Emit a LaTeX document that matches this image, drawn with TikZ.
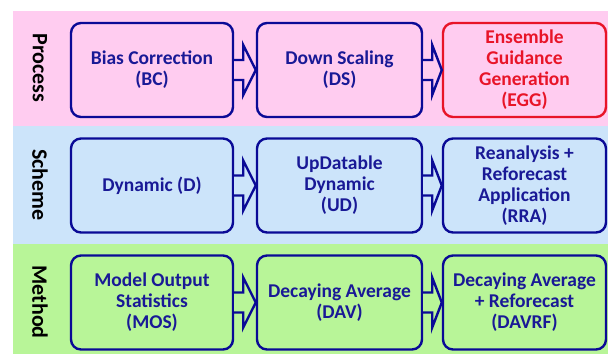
\documentclass[tikz,border=0pt]{standalone}
\usepackage{fontspec}
\setmainfont{Carlito}
\usetikzlibrary{calc}
\definecolor{bandpink}{RGB}{255,204,240}
\definecolor{bandblue}{RGB}{204,228,250}
\definecolor{bandgreen}{RGB}{184,245,152}
\definecolor{navy}{RGB}{10,10,150}
\definecolor{navytext}{RGB}{25,25,150}
\definecolor{redline}{RGB}{232,20,40}
\tikzset{
  box/.style={draw=navy, line width=2.4pt, rounded corners=10pt, minimum width=162pt, minimum height=94pt,
    align=center, text=navytext, font=\fontsize{19.5}{21}\selectfont\bfseries, inner sep=2pt},
  redbox/.style={box, draw=redline, text=redline},
  rowlabel/.style={rotate=-90, font=\fontsize{22}{24}\selectfont\bfseries, text=black},
  blockarrow/.style={draw=navy, line width=2.4pt, line join=miter, miter limit=10}
}
\newcommand{\blockarr}[3]{%
  \filldraw[blockarrow, fill=#3] ($(#1.east)+(0,-10)$) -- ($(#1.east)+(9,-10)$) -- ($(#1.east)+(9,-25)$)
    -- ($(#2.west)+(0,0)$) -- ($(#1.east)+(9,25)$) -- ($(#1.east)+(9,10)$) -- ($(#1.east)+(0,10)$);}
\begin{document}
\begin{tikzpicture}[x=1pt, y=-1pt]
\path[use as bounding box] (0,0) rectangle (608,354);
\fill[bandpink] (13,11) rectangle (608,126);
\fill[bandblue] (13,126) rectangle (608,244);
\fill[bandgreen] (13,244) rectangle (608,354);

\node[rowlabel] (lp) at (40,68) {Process};
\node[rowlabel] (ls) at (40,185) {Scheme};
\node[rowlabel] (lm) at (40,302) {Method};

% row 1
\node[box, fill=bandpink, minimum width=162pt] (bc) at (152,70) {Bias Correction\\(BC)};
\node[box, fill=bandpink, minimum width=165pt] (ds) at (339.5,70) {Down Scaling\\(DS)};
\node[redbox, fill=bandpink, minimum width=163pt] (egg) at (524.5,70) {Ensemble\\Guidance\\Generation\\(EGG)};
\blockarr{bc}{ds}{bandpink}
\blockarr{ds}{egg}{bandpink}

% row 2
\node[box, fill=bandblue, minimum width=162pt] (d) at (152,185.5) {Dynamic (D)};
\node[box, fill=bandblue, minimum width=165pt] (ud) at (339.5,185.5) {UpDatable\\Dynamic\\(UD)};
\node[box, fill=bandblue, minimum width=163pt] (rra) at (524.5,185.5) {Reanalysis +\\Reforecast\\Application\\(RRA)};
\blockarr{d}{ud}{bandblue}
\blockarr{ud}{rra}{bandblue}

% row 3
\node[box, fill=bandgreen, minimum width=162pt] (mos) at (152,302.5) {Model Output\\Statistics\\(MOS)};
\node[box, fill=bandgreen, minimum width=165pt] (dav) at (339.5,302.5) {Decaying Average\\(DAV)};
\node[box, fill=bandgreen, minimum width=163pt] (davrf) at (524.5,302.5) {Decaying Average\\+ Reforecast\\(DAVRF)};
\blockarr{mos}{dav}{bandgreen}
\blockarr{dav}{davrf}{bandgreen}
\end{tikzpicture}
\end{document}
